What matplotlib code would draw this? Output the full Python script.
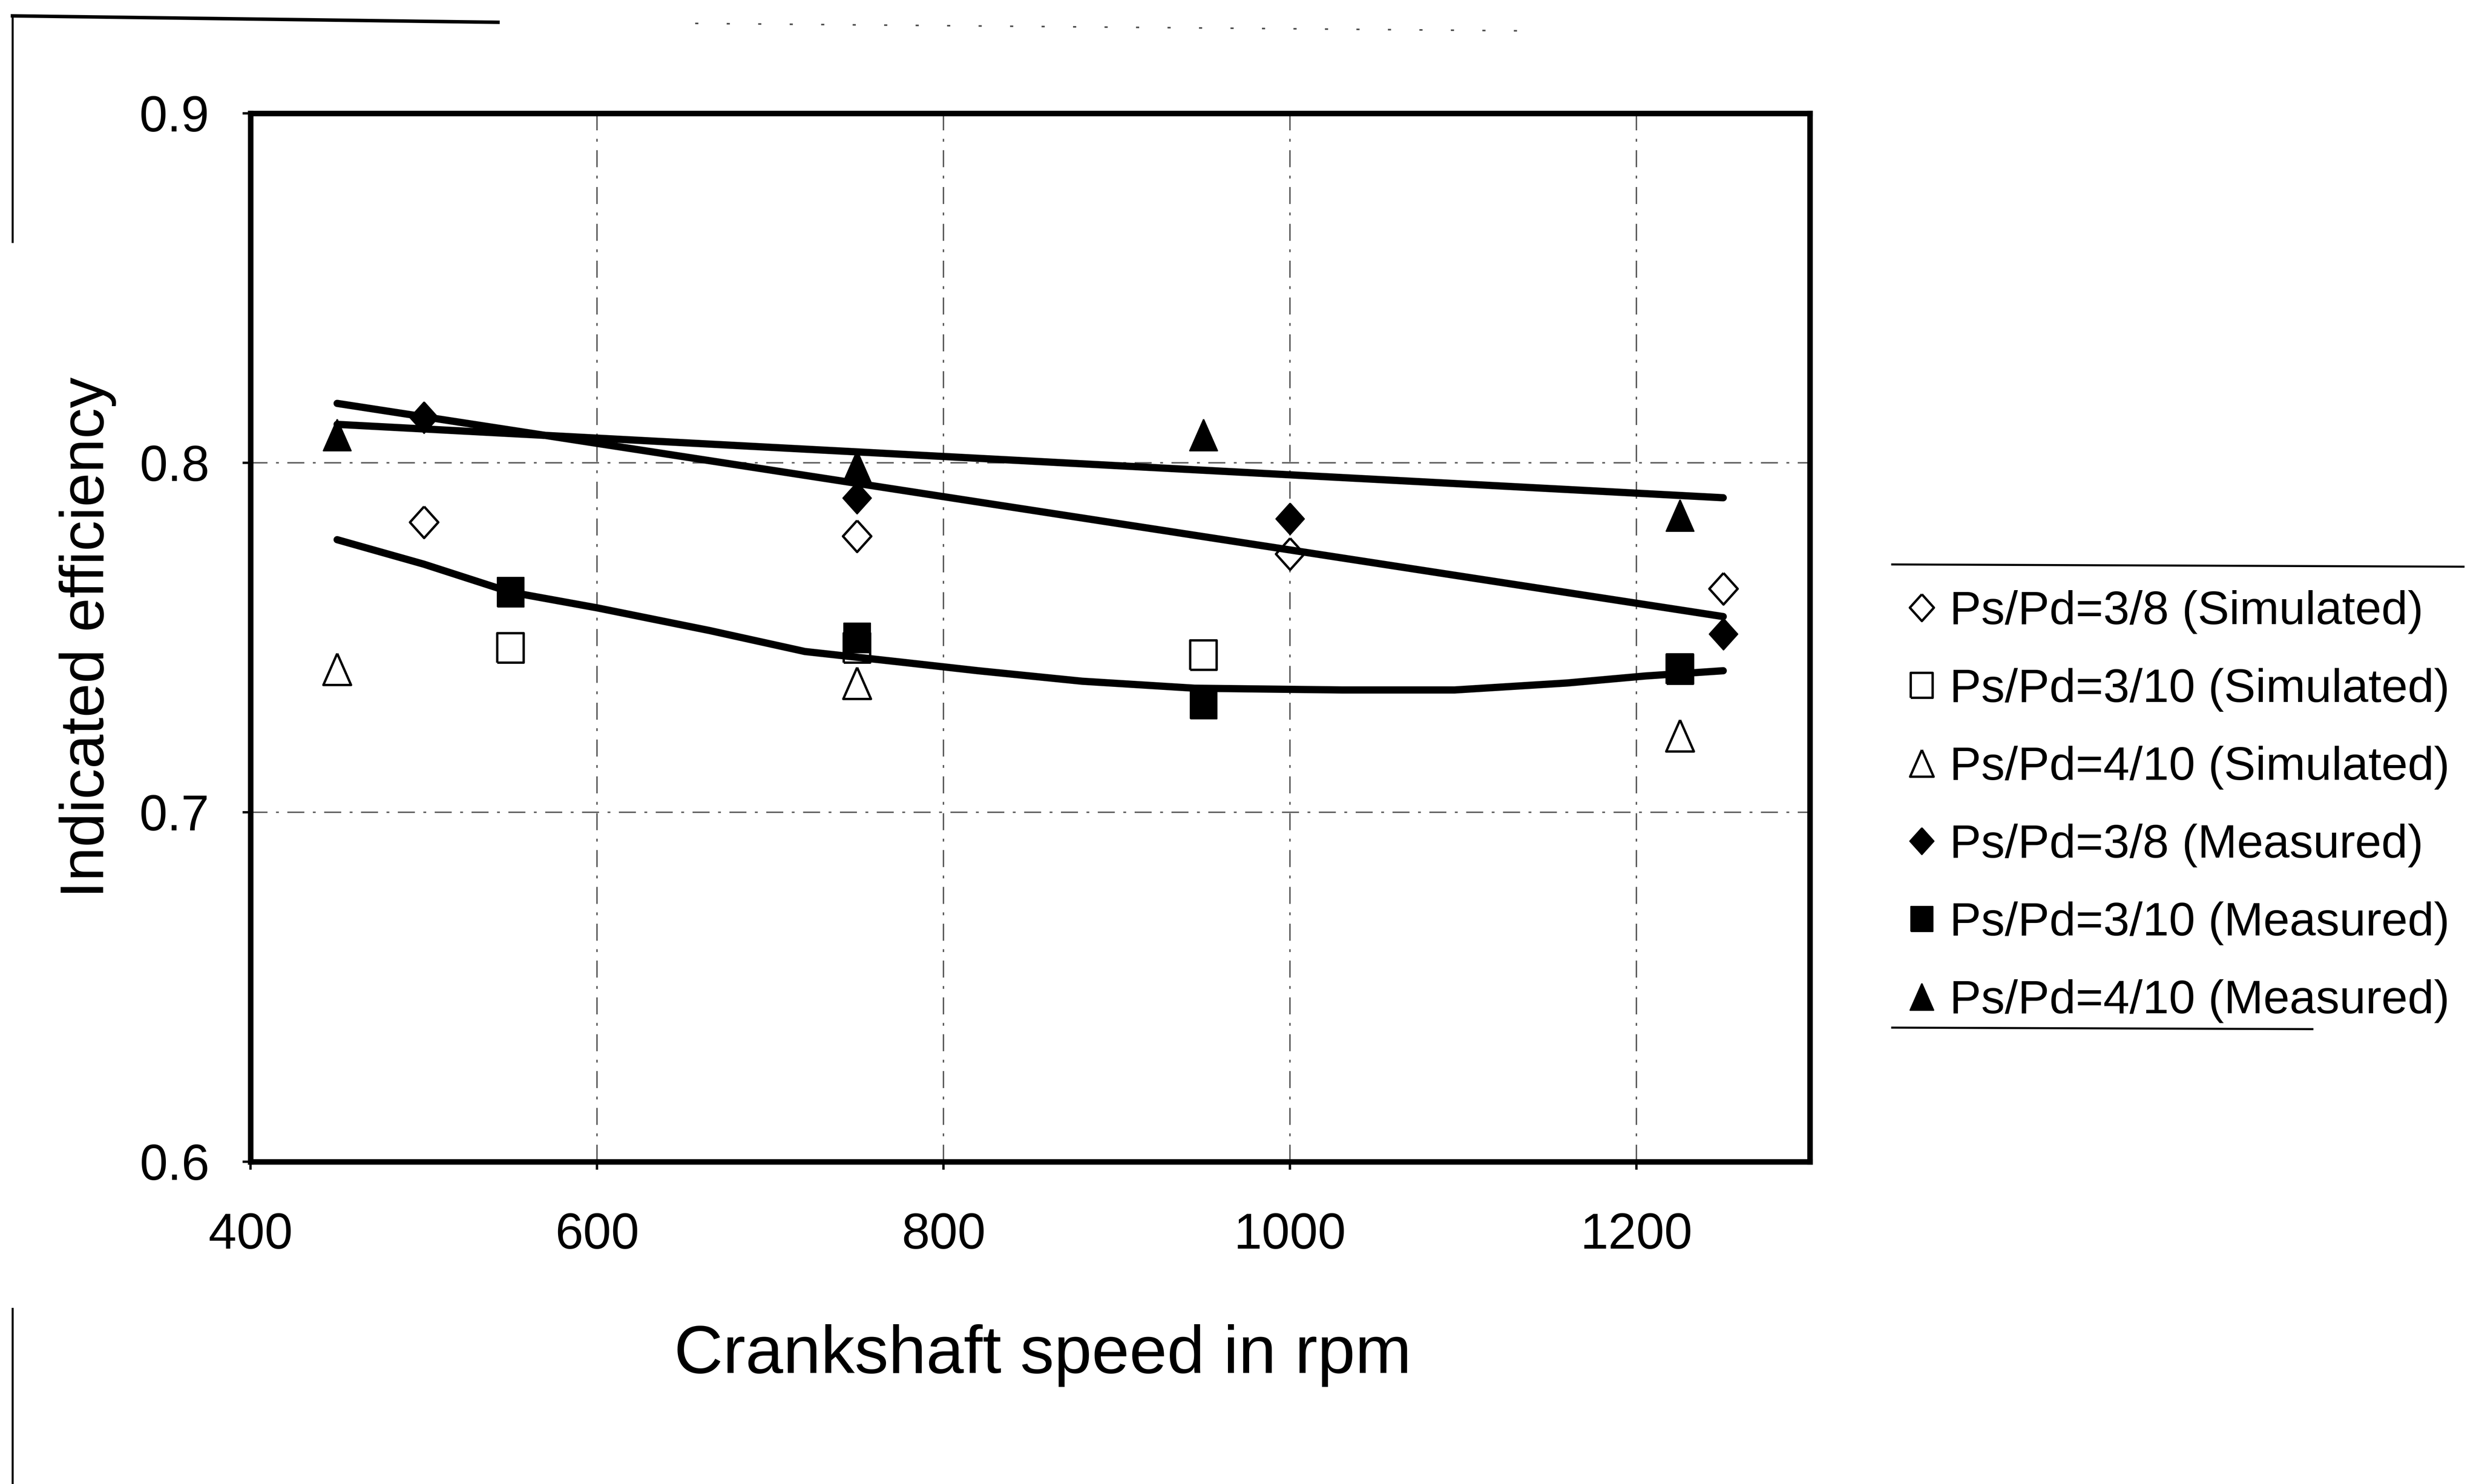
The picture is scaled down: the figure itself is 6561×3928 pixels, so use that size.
import matplotlib
matplotlib.use("Agg")
import matplotlib.pyplot as plt
from matplotlib.lines import Line2D

plt.rcParams['font.family'] = ['Liberation Sans', 'DejaVu Sans']

# ---------------- data ----------------
sim_38_x = [500, 750, 1000, 1250]
sim_38_y = [0.783, 0.779, 0.774, 0.764]
sim_310_x = [550, 750, 950, 1225]
sim_310_y = [0.747, 0.747, 0.745, 0.741]
sim_410_x = [450, 750, 1225]
sim_410_y = [0.741, 0.737, 0.722]

meas_38_x = [500, 750, 1000, 1250]
meas_38_y = [0.813, 0.790, 0.784, 0.751]
meas_310_x = [550, 750, 950, 1225]
meas_310_y = [0.763, 0.750, 0.731, 0.741]
meas_410_x = [450, 750, 950, 1225]
meas_410_y = [0.808, 0.799, 0.808, 0.785]

# trend lines
trend_38_x = [450, 1250]
trend_38_y = [0.817, 0.756]
trend_410_x = [450, 1250]
trend_410_y = [0.811, 0.790]
trend_310_x = [450, 500, 550, 600, 665, 720, 775, 820, 880, 945, 1030, 1095, 1160, 1205, 1250]
trend_310_y = [0.778, 0.771, 0.763, 0.7585, 0.752, 0.746, 0.743, 0.7405, 0.7375, 0.7355,
               0.735, 0.735, 0.737, 0.739, 0.7405]

labels = ["Ps/Pd=3/8 (Simulated)", "Ps/Pd=3/10 (Simulated)", "Ps/Pd=4/10 (Simulated)",
          "Ps/Pd=3/8 (Measured)", "Ps/Pd=3/10 (Measured)", "Ps/Pd=4/10 (Measured)"]
x_ticks = [400, 600, 800, 1000, 1200]
y_ticks = [0.6, 0.7, 0.8, 0.9]
y_ticklabels = ["0.6", "0.7", "0.8", "0.9"]
x_label = "Crankshaft speed in rpm"
y_label = "Indicated efficiency"

# ---------------- styles ----------------
W, H = 6561, 3928
DPI = 300
DIAMOND = [(0, 1), (0.9, 0), (0, -1), (-0.9, 0), (0, 1)]
SQUARE = [(-0.9, -1), (0.9, -1), (0.9, 1), (-0.9, 1), (-0.9, -1)]
TRIANGLE = [(0, 1), (-0.88, -1), (0.88, -1), (0, 1)]

fig = plt.figure(figsize=(W / DPI, H / DPI), dpi=DPI)
fig.patch.set_facecolor('white')
ax = fig.add_axes([663 / W, 1 - 3075 / H, (4790 - 663) / W, (3075 - 300) / H])

ax.set_xlim(400, 1300)
ax.set_ylim(0.6, 0.9)

open_kw = dict(linestyle='none', markerfacecolor='white', markeredgecolor='black',
               markeredgewidth=1.5, zorder=4)
fill_kw = dict(linestyle='none', markerfacecolor='black', markeredgecolor='black',
               markeredgewidth=0.8, zorder=4)

h1, = ax.plot(sim_38_x, sim_38_y, marker=DIAMOND, markersize=20, label=labels[0], **open_kw)
h2, = ax.plot(sim_310_x, sim_310_y, marker=SQUARE, markersize=18.5, label=labels[1], **open_kw)
h3, = ax.plot(sim_410_x, sim_410_y, marker=TRIANGLE, markersize=20, label=labels[2], **open_kw)
h4, = ax.plot(meas_38_x, meas_38_y, marker=DIAMOND, markersize=20, label=labels[3], **fill_kw)
h5, = ax.plot(meas_310_x, meas_310_y, marker=SQUARE, markersize=18.5, label=labels[4], **fill_kw)
h6, = ax.plot(meas_410_x, meas_410_y, marker=TRIANGLE, markersize=20, label=labels[5], **fill_kw)

line_kw = dict(color='black', lw=4.6, solid_capstyle='round', solid_joinstyle='round', zorder=5)
ax.plot(trend_38_x, trend_38_y, **line_kw)
ax.plot(trend_410_x, trend_410_y, **line_kw)
ax.plot(trend_310_x, trend_310_y, **line_kw)

# grid
ax.set_xticks(x_ticks)
ax.set_yticks(y_ticks)
ax.set_yticklabels(y_ticklabels)
ax.grid(True, color='0.35', lw=0.9, linestyle=(0, (12, 6, 2, 6)), zorder=0)
ax.set_axisbelow(True)

for s in ax.spines.values():
    s.set_linewidth(3.5)
    s.set_color('black')

ax.tick_params(axis='both', direction='out', length=5, width=1.5, colors='black',
               labelsize=32)
ax.tick_params(axis='x', pad=27)
ax.tick_params(axis='y', pad=21)

ax.set_xlabel(x_label, fontsize=43)
ax.xaxis.set_label_coords(0.508, -0.155)
ax.set_ylabel(y_label, fontsize=39)
ax.yaxis.set_label_coords(-0.086, 0.50)

# legend
leg = fig.legend(handles=[h1, h2, h3, h4, h5, h6], loc='center left',
                 bbox_to_anchor=(5048 / W, 1 - 2135 / H), frameon=False,
                 fontsize=30, markerscale=0.85, handlelength=0.6, handletextpad=0.3,
                 labelspacing=0.72, borderpad=0, borderaxespad=0)

def fl(x1, y1, x2, y2, **kw):
    fig.add_artist(Line2D([x1 / W, x2 / W], [1 - y1 / H, 1 - y2 / H],
                          transform=fig.transFigure, color='black', **kw))

# legend frame remnants (top and bottom rules)
fl(5008, 1494, 6520, 1500, lw=1.3)
fl(5008, 2720, 6120, 2724, lw=1.3)

# scanned page border fragments
fl(33, 42, 1318, 59, lw=2.2)
fl(33, 42, 33, 640, lw=1.3)
fl(33, 3464, 33, 3928, lw=1.3)
fl(1840, 62, 4070, 82, lw=1.0, linestyle=(0, (2, 18)), alpha=0.7)

fig.savefig("out.png", dpi=DPI, facecolor='white')
